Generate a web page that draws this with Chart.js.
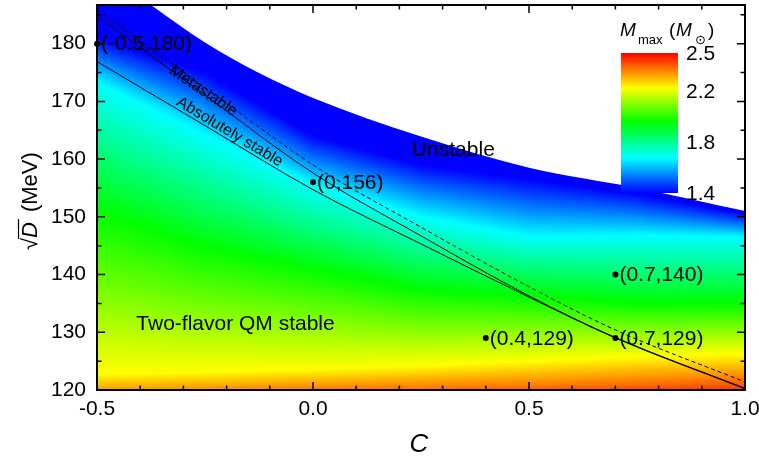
<!DOCTYPE html>
<html lang="en">
<head>
    <meta charset="UTF-8">
    <title>Maximum mass of strange quark stars</title>
    <script src="https://cdn.jsdelivr.net/npm/chart.js"></script>
    <style>
        html, body { margin: 0; padding: 0; background: #fff; }
        #massChart { display: block; }
    </style>
</head>
<body>
    <canvas id="massChart" width="759" height="466"></canvas>

    <script>
        const contourC = [-0.5, -0.25, 0, 0.25, 0.5, 0.75, 1.0];
        // M_max level of every contour (the colour bar stops) ...
        const contourLevels = [2.5, 2.36, 2.225, 1.96, 1.675, 1.4];
        // ... and sqrt(D) in MeV where that level sits, one value per C above
        const contourRed    = [115.0, 115.8, 116.5, 117.0, 117.5, 118.0, 118.5];
        const contourOrange = [119.3, 119.7, 120.3, 120.6, 121.0, 121.6, 122.2];
        const contourYellow = [122.8, 123.1, 123.6, 124.2, 125.0, 125.8, 126.3];
        const contourGreen  = [151.0, 144.8, 141.0, 137.3, 136.3, 135.0, 135.0];
        const contourCyan   = [173.3, 164.2, 155.5, 150.0, 146.5, 146.8, 146.5];
        const contourBlue   = [181.0, 175.0, 164.0, 159.0, 156.5, 154.0, 150.5];
        const contourD = [contourRed, contourOrange, contourYellow, contourGreen, contourCyan, contourBlue];

        // upper edge of the stable region (white above = unstable)
        const unstableC = [-0.5, -0.375, -0.25, -0.125, 0, 0.25, 0.5, 0.75, 1.0];
        const unstableD = [193.5, 186.7, 180.2, 174.9, 170.6, 163.9, 158.5, 155.0, 151.0];

        // stability boundaries
        const boundaryC = [-0.5, -0.25, 0, 0.25, 0.5, 0.7, 1.0];
        const metaDashedD = [185.9, 172.4, 159.0, 148.2, 137.9, 130.4, 121.4];
        const metastableD = [184.8, 171.1, 157.6, 146.7, 136.3, 129.1, 120.3];
        const absStableD  = [176.9, 165.8, 154.7, 145.3, 136.1, 129.0, 120.2];

        // marked parameter sets
        const pointC = [-0.5, 0, 0.4, 0.7, 0.7];
        const pointD = [180, 156, 129, 140, 129];
        const pointLabels = ['(-0.5,180)', '(0,156)', '(0.4,129)', '(0.7,140)', '(0.7,129)'];

        // colour bar
        const cbValues = [1.4, 1.675, 1.96, 2.225, 2.5];
        const cbColors = ['#0000ff', '#00ffff', '#00ff00', '#ffff00', '#ff0000'];
        const cbTicks = [1.4, 1.8, 2.2, 2.5];

        const FONT = '"Liberation Sans", Arial, Helvetica, sans-serif';

        // text placed in data coordinates
        const regionText = [
            { text: 'Unstable', c: 0.229, d: 160.5, angle: 0, size: 21, align: 'left' },
            { text: 'Two-flavor QM stable', c: -0.409, d: 130.4, angle: 0, size: 21, align: 'left' },
            { text: 'Metastable', c: -0.254, d: 171.8, angle: 34, size: 16, align: 'center' },
            { text: 'Absolutely stable', c: -0.193, d: 164.7, angle: 31, size: 16, align: 'center' }
        ];

        function hexRgb(h) {
            return [1, 3, 5].map(i => parseInt(h.substr(i, 2), 16));
        }

        function colorAt(v) {
            if (v <= cbValues[0]) return cbColors[0];
            for (let i = 1; i < cbValues.length; i++) {
                if (v <= cbValues[i]) {
                    const t = (v - cbValues[i - 1]) / (cbValues[i] - cbValues[i - 1]);
                    const a = hexRgb(cbColors[i - 1]), b = hexRgb(cbColors[i]);
                    const c = a.map((ch, j) => Math.round(ch + (b[j] - ch) * t));
                    return `rgb(${c[0]},${c[1]},${c[2]})`;
                }
            }
            return cbColors[cbColors.length - 1];
        }

        // gradient between two contour segments: a conic gradient centred where
        // the two segments meet, so both edges get exactly their level colour
        function bandFill(g, a0, a1, b0, b1, colA, colB) {
            const dax = a1.x - a0.x, day = a1.y - a0.y;
            const dbx = b1.x - b0.x, dby = b1.y - b0.y;
            const ma = { x: (a0.x + a1.x) / 2, y: (a0.y + a1.y) / 2 };
            const mb = { x: (b0.x + b1.x) / 2, y: (b0.y + b1.y) / 2 };
            const den = dax * dby - day * dbx;
            if (Math.abs(den) > 1e-9 && typeof g.createConicGradient === 'function') {
                const t = ((b0.x - a0.x) * dby - (b0.y - a0.y) * dbx) / den;
                const cx = a0.x + t * dax, cy = a0.y + t * day;
                const far = Math.hypot(cx - ma.x, cy - ma.y);
                const x0 = Math.min(a0.x, a1.x) - 3, x1 = Math.max(a0.x, a1.x) + 3;
                if ((cx < x0 || cx > x1) && far < 40000) {
                    const aa = Math.atan2(ma.y - cy, ma.x - cx);
                    let d = Math.atan2(mb.y - cy, mb.x - cx) - aa;
                    while (d > Math.PI) d -= 2 * Math.PI;
                    while (d < -Math.PI) d += 2 * Math.PI;
                    const grad = g.createConicGradient(aa + d / 2 + Math.PI, cx, cy);
                    const half = d / (4 * Math.PI);
                    if (half > 0) {
                        grad.addColorStop(0.5 - half, colA);
                        grad.addColorStop(0.5 + half, colB);
                    } else {
                        grad.addColorStop(0.5 + half, colB);
                        grad.addColorStop(0.5 - half, colA);
                    }
                    return grad;
                }
            }
            const ux = dax + dbx, uy = day + dby;
            const len = Math.hypot(ux, uy) || 1;
            const nx = -uy / len, ny = ux / len;
            const s = (mb.x - ma.x) * nx + (mb.y - ma.y) * ny || 1;
            const grad = g.createLinearGradient(ma.x, ma.y, ma.x + nx * s, ma.y + ny * s);
            grad.addColorStop(0, colA);
            grad.addColorStop(1, colB);
            return grad;
        }

        function bandGradient(k) {
            const colA = colorAt(contourLevels[k]);
            const colB = colorAt(contourLevels[k + 1]);
            return (ctx) => {
                const next = ctx.chart.getDatasetMeta(ctx.datasetIndex + 1).data;
                const b0 = next[ctx.p0DataIndex], b1 = next[ctx.p1DataIndex];
                if (!b0 || !b1) return colA;
                return bandFill(ctx.chart.ctx, ctx.p0, ctx.p1, b0, b1, colA, colB);
            };
        }

        const xy = (cs, ds) => cs.map((c, i) => ({ x: c, y: ds[i] }));

        const datasets = [];
        contourD.forEach((arr, k) => {
            const last = k === contourD.length - 1;
            const ds = {
                data: xy(contourC, arr),
                borderWidth: 0,
                pointRadius: 0,
                tension: 0,
                fill: 'end',
                backgroundColor: colorAt(contourLevels[k]),
                order: 30 - k
            };
            if (!last) ds.segment = { backgroundColor: bandGradient(k) };
            datasets.push(ds);
        });
        datasets.push({
            data: xy(unstableC, unstableD),
            borderWidth: 0, pointRadius: 0,
            cubicInterpolationMode: 'monotone',
            fill: 'end', backgroundColor: '#ffffff',
            order: 10
        });
        datasets.push({
            data: xy(boundaryC, metaDashedD),
            borderColor: '#000', borderWidth: 1, borderDash: [4, 3],
            pointRadius: 0, fill: false, cubicInterpolationMode: 'monotone', order: 5
        });
        datasets.push({
            data: xy(boundaryC, metastableD),
            borderColor: '#000', borderWidth: 1,
            pointRadius: 0, fill: false, cubicInterpolationMode: 'monotone', order: 5
        });
        datasets.push({
            data: xy(boundaryC, absStableD),
            borderColor: '#000', borderWidth: 1,
            pointRadius: 0, fill: false, cubicInterpolationMode: 'monotone', order: 5
        });
        const pointsIndex = datasets.length;
        datasets.push({
            data: xy(pointC, pointD),
            showLine: false, pointRadius: 3, pointBorderWidth: 0,
            pointBackgroundColor: '#000', fill: false, clip: false, order: 1
        });

        const isMajor = (tick) => tick.label !== '' && tick.label !== undefined;

        const decor = {
            id: 'decor',
            afterDatasetsDraw(chart) {
                const { ctx, chartArea: a, scales: { x, y } } = chart;
                ctx.save();
                ctx.fillStyle = '#000';

                // region labels
                regionText.forEach(r => {
                    ctx.save();
                    ctx.translate(x.getPixelForValue(r.c), y.getPixelForValue(r.d));
                    ctx.rotate(r.angle * Math.PI / 180);
                    ctx.font = `${r.size}px ${FONT}`;
                    ctx.textAlign = r.align;
                    ctx.textBaseline = r.align === 'center' ? 'middle' : 'alphabetic';
                    ctx.fillText(r.text, 0, 0);
                    ctx.restore();
                });

                // point labels
                ctx.font = `21px ${FONT}`;
                ctx.textAlign = 'left';
                ctx.textBaseline = 'middle';
                chart.getDatasetMeta(pointsIndex).data.forEach((pt, i) => {
                    ctx.fillText(pointLabels[i], pt.x + 4, pt.y + 1);
                });

                // colour bar
                const cb = { left: 621, right: 678, top: 53, bottom: 193 };
                const vmin = cbValues[0], vmax = cbValues[cbValues.length - 1];
                const cbY = v => cb.bottom - (v - vmin) / (vmax - vmin) * (cb.bottom - cb.top);
                const grad = ctx.createLinearGradient(0, cb.bottom, 0, cb.top);
                cbValues.forEach((v, i) => grad.addColorStop((v - vmin) / (vmax - vmin), cbColors[i]));
                ctx.fillStyle = grad;
                ctx.fillRect(cb.left, cb.top, cb.right - cb.left, cb.bottom - cb.top);
                ctx.fillStyle = '#000';
                ctx.font = `21px ${FONT}`;
                cbTicks.forEach(v => ctx.fillText(v.toFixed(1), cb.right + 8, cbY(v) + 1));

                ctx.textBaseline = 'alphabetic';
                ctx.font = `italic 19px ${FONT}`;
                ctx.fillText('M', 620, 36);
                ctx.font = `13px ${FONT}`;
                ctx.fillText('max', 638, 44);
                ctx.font = `19px ${FONT}`;
                ctx.fillText('(', 669, 36);
                ctx.font = `italic 19px ${FONT}`;
                ctx.fillText('M', 676, 36);
                ctx.font = `13px "DejaVu Sans", sans-serif`;
                ctx.fillText('\u2299', 695, 44);
                ctx.font = `19px ${FONT}`;
                ctx.fillText(')', 708, 36);

                // frame
                ctx.strokeStyle = '#000';
                ctx.lineWidth = 2;
                ctx.strokeRect(a.left, a.top, a.right - a.left, a.bottom - a.top);

                // inward ticks on all four sides
                ctx.lineWidth = 1.5;
                ctx.beginPath();
                x.ticks.forEach(t => {
                    const px = x.getPixelForValue(t.value);
                    const len = isMajor(t) ? 8 : 4.5;
                    ctx.moveTo(px, a.bottom); ctx.lineTo(px, a.bottom - len);
                    ctx.moveTo(px, a.top); ctx.lineTo(px, a.top + len);
                });
                y.ticks.forEach(t => {
                    const py = y.getPixelForValue(t.value);
                    const len = isMajor(t) ? 8 : 4.5;
                    ctx.moveTo(a.left, py); ctx.lineTo(a.left + len, py);
                    ctx.moveTo(a.right, py); ctx.lineTo(a.right - len, py);
                });
                ctx.stroke();
                ctx.restore();
            },
            afterDraw(chart) {
                const ctx = chart.ctx;
                ctx.save();
                ctx.fillStyle = '#000';
                ctx.strokeStyle = '#000';

                // x title
                ctx.font = `italic 26px ${FONT}`;
                ctx.textAlign = 'center';
                ctx.textBaseline = 'alphabetic';
                ctx.fillText('C', 419, 452);

                // y title: sqrt(D) (MeV)
                ctx.translate(37, 250);
                ctx.rotate(-Math.PI / 2);
                ctx.textAlign = 'left';
                ctx.font = `22px ${FONT}`;
                ctx.fillText('\u221A', 0, 0);
                const sw = ctx.measureText('\u221A').width;
                ctx.font = `italic 22px ${FONT}`;
                ctx.fillText('D', sw, 0);
                const dw = ctx.measureText('D').width;
                ctx.lineWidth = 1.2;
                ctx.beginPath();
                ctx.moveTo(sw - 1, -18.5);
                ctx.lineTo(sw + dw + 3, -18.5);
                ctx.stroke();
                ctx.font = `22px ${FONT}`;
                ctx.fillText('(MeV)', sw + dw + 10, 0);
                ctx.restore();
            }
        };

        const tickFont = { family: FONT, size: 21 };

        new Chart(document.getElementById('massChart'), {
            type: 'line',
            data: { datasets },
            options: {
                responsive: false,
                devicePixelRatio: 1,
                animation: false,
                events: [],
                layout: { padding: { top: 5, right: 14, left: 0, bottom: 0 } },
                plugins: {
                    legend: { display: false },
                    tooltip: { enabled: false }
                },
                scales: {
                    x: {
                        type: 'linear',
                        bounds: 'data',
                        min: -0.5,
                        max: 1.0,
                        grid: { display: false, drawTicks: false },
                        border: { display: false },
                        ticks: {
                            stepSize: 0.1,
                            autoSkip: false,
                            maxRotation: 0,
                            includeBounds: false,
                            padding: 7,
                            color: '#000',
                            font: tickFont,
                            callback: v => {
                                if (Math.abs(v * 2 - Math.round(v * 2)) > 1e-6) return '';
                                return Math.abs(v) < 1e-9 ? '0.0' : v.toFixed(1);
                            }
                        },
                        afterFit: s => { s.height = 76; s.paddingLeft = 0; s.paddingRight = 0; }
                    },
                    y: {
                        bounds: 'data',
                        min: 120,
                        max: 186.7,
                        grid: { display: false, drawTicks: false },
                        border: { display: false },
                        ticks: {
                            stepSize: 5,
                            autoSkip: false,
                            includeBounds: false,
                            padding: 11,
                            color: '#000',
                            font: tickFont,
                            callback: v => (Math.abs(v % 10) < 1e-6 ? String(Math.round(v)) : '')
                        },
                        afterFit: s => { s.width = 97; s.paddingTop = 0; s.paddingBottom = 0; }
                    }
                }
            },
            plugins: [decor]
        });
    </script>
</body>
</html>
